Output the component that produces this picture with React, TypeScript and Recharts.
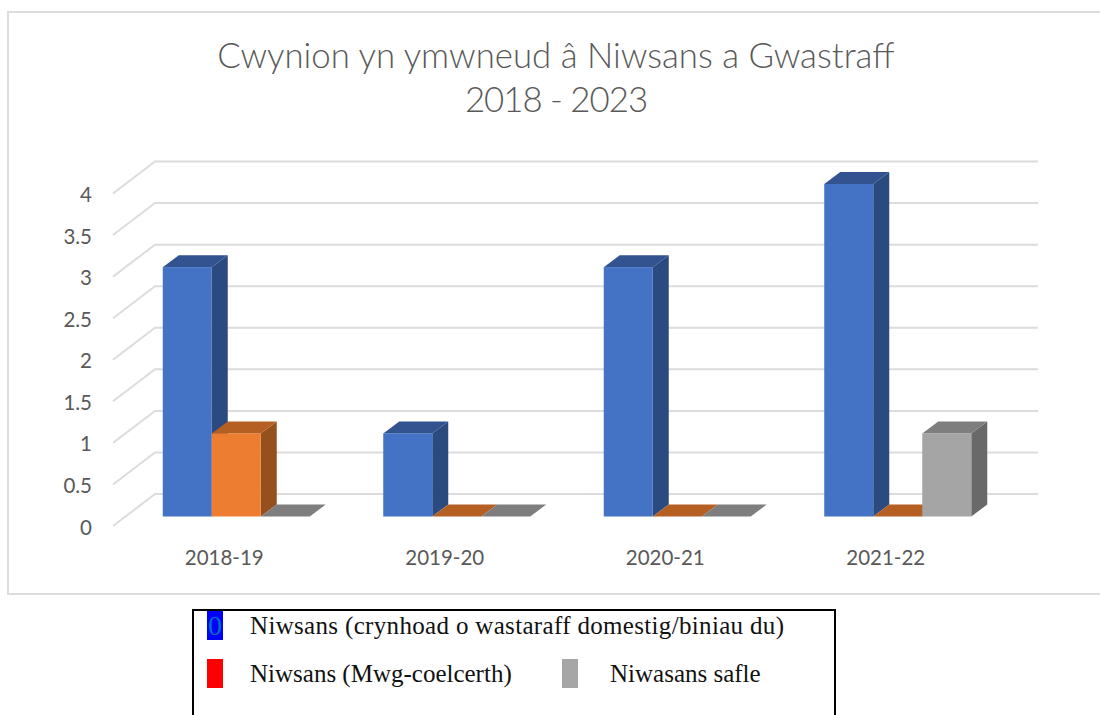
import { BarChart, Bar, XAxis, YAxis, CartesianGrid } from "recharts";

const categories = ["2018-19", "2019-20", "2020-21", "2021-22"];
const domesticWaste = [3, 1, 3, 4];
const bonfireSmoke = [1, 0, 0, 0];
const siteNuisance = [0, 0, 0, 1];
const yTicks = [0, 0.5, 1, 1.5, 2, 2.5, 3, 3.5, 4];
const titleLines = ["Cwynion yn ymwneud â Niwsans a Gwastraff", "2018 - 2023"];

const data = categories.map((name, i) => ({
  name,
  domesticWaste: domesticWaste[i],
  bonfireSmoke: bonfireSmoke[i],
  siteNuisance: siteNuisance[i],
}));

const CHART_FONT = "Lato, 'Open Sans', sans-serif";
const LEGEND_FONT = "'Liberation Serif', serif";
const GRID = "#dcdcdc";
const TEXT = "#595959";

// fake 3D offsets, as in the Excel style chart
const DEPTH_X = 16;
const DEPTH_Y = 12;

const Bar3D = ({ x, y, width, height, front, top, side }: any) => {
  const dx = DEPTH_X;
  const dy = DEPTH_Y;
  const bottom = y + height;
  return (
    <g>
      {height > 0 && <polygon points={`${x + width},${y} ${x + width + dx},${y - dy} ${x + width + dx},${bottom - dy} ${x + width},${bottom}`} fill={side} />}
      <polygon points={`${x},${y} ${x + dx},${y - dy} ${x + width + dx},${y - dy} ${x + width},${y}`} fill={top} />
      {height > 0 && <rect x={x} y={y} width={width} height={height} fill={front} />}
    </g>
  );
};

// gridlines run along the back wall, with a diagonal down to the front edge
const WallLine = ({ x2, y1 }: any) => {
  const backX = 154;
  const frontX = 112;
  const backY = y1 - 22.5;
  const frontY = y1 + 9.5;
  return <polyline points={`${frontX},${frontY} ${backX},${backY} ${x2 + 30},${backY}`} fill="none" stroke={GRID} strokeWidth={2} />;
};

const YTick = ({ y, payload }: any) => (
  <text x={91} y={y + 11} dy={7} textAnchor="end" fontFamily={CHART_FONT} fontSize={20.5} fill={TEXT}>
    {payload.value}
  </text>
);

const XTick = ({ x, y, payload }: any) => (
  <text x={x - 12} y={y + 33} dy={7} textAnchor="middle" fontFamily={CHART_FONT} fontSize={20.5} fill={TEXT}>
    {payload.value}
  </text>
);

const legendText = { position: "absolute", fontFamily: LEGEND_FONT, fontSize: 25, color: "#111", whiteSpace: "nowrap", lineHeight: "30px" } as const;

export default function App() {
  return (
    <div style={{ position: "fixed", left: 0, top: 0, width: 1100, height: 715, overflow: "hidden", background: "#fff" }}>
      <div style={{ position: "absolute", left: 7, top: 11, width: 1094, height: 580, border: "2px solid #dcdcdc" }} />
      <div style={{ position: "absolute", left: 0.5, top: 0 }}>
        <BarChart
          width={1100}
          height={715}
          data={data}
          barGap={0}
          barCategoryGap="16.67%"
          margin={{ top: 184, right: 93, left: 0, bottom: 138.5 }}
        >
          <CartesianGrid vertical={false} horizontal={(props: any) => <WallLine key={props.key} {...props} />} />
          <XAxis dataKey="name" axisLine={false} tickLine={false} height={60} tick={<XTick />} interval={0} />
          <YAxis width={125} domain={[0, 4]} ticks={yTicks} axisLine={false} tickLine={false} tick={<YTick />} />
          <Bar dataKey="domesticWaste" isAnimationActive={false} shape={(p: any) => <Bar3D {...p} front="#4472C4" top="#325290" side="#2A4A80" />} />
          <Bar dataKey="bonfireSmoke" isAnimationActive={false} shape={(p: any) => <Bar3D {...p} front="#ED7D31" top="#B55F23" side="#95501E" />} />
          <Bar dataKey="siteNuisance" isAnimationActive={false} shape={(p: any) => <Bar3D {...p} front="#A5A5A5" top="#7E7E7E" side="#696969" />} />
        </BarChart>
      </div>
      {titleLines.map((line, i) => (
        <div
          key={line}
          style={{ position: "absolute", left: 1, width: 1110, top: 32 + i * 44, textAlign: "center", fontFamily: CHART_FONT, fontSize: 34.8, fontWeight: 300, letterSpacing: i === 1 ? -1 : 0, lineHeight: "46px", color: TEXT, whiteSpace: "nowrap" }}
        >
          {line}
        </div>
      ))}
      <div style={{ position: "absolute", left: 192, top: 609, width: 640, height: 140, border: "2px solid #000" }} />
      <div style={{ position: "absolute", left: 207, top: 611, width: 16, height: 29, background: "#0000ff", color: "#0070c0", fontFamily: LEGEND_FONT, fontSize: 28, lineHeight: "29px", textAlign: "center" }}>0</div>
      <div style={{ position: "absolute", left: 207, top: 659, width: 16, height: 29, background: "#ff0000" }} />
      <div style={{ position: "absolute", left: 562, top: 659, width: 16, height: 29, background: "#a6a6a6" }} />
      <div style={{ ...legendText, left: 250, top: 611, letterSpacing: 0.33 }}>Niwsans (crynhoad o wastaraff domestig/biniau du)</div>
      <div style={{ ...legendText, left: 250, top: 659 }}>Niwsans (Mwg-coelcerth)</div>
      <div style={{ ...legendText, left: 610, top: 659 }}>Niwasans safle</div>
    </div>
  );
}
